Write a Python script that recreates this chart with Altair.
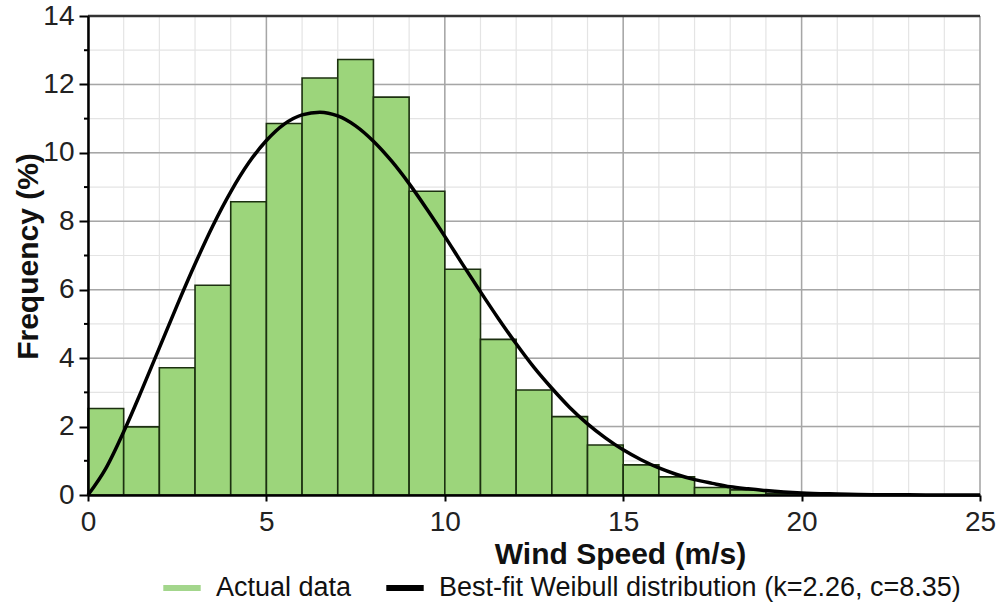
import altair as alt
import pandas as pd

# ---- data ----
bin_start = list(range(0, 20))
bin_end = list(range(1, 21))
freq = [2.53, 1.99, 3.72, 6.13, 8.57, 10.86, 12.19, 12.73, 11.63, 8.88,
        6.60, 4.55, 3.07, 2.29, 1.46, 0.88, 0.53, 0.22, 0.15, 0.05]

fit_x = [0, 0.5, 1, 1.5, 2, 2.5, 3, 3.5, 4, 4.5, 5, 5.5, 6, 6.5, 7, 7.5, 8, 8.5,
         9, 9.5, 10, 10.5, 11, 11.5, 12, 12.5, 13, 13.5, 14, 14.5, 15, 15.5, 16,
         16.5, 17, 17.5, 18, 18.5, 19, 19.5, 20, 21, 22, 23, 24, 25]
fit_y = [0.0, 0.78, 1.85, 3.05, 4.30, 5.55, 6.75, 7.87, 8.86, 9.70, 10.36, 10.84,
         11.11, 11.19, 11.08, 10.79, 10.34, 9.77, 9.10, 8.35, 7.56, 6.74, 5.94,
         5.16, 4.42, 3.73, 3.12, 2.56, 2.08, 1.67, 1.32, 1.03, 0.79, 0.60, 0.45,
         0.34, 0.24, 0.18, 0.13, 0.09, 0.06, 0.03, 0.01, 0.005, 0.002, 0.001]

series_names = ["Actual data", "Best-fit Weibull distribution (k=2.26, c=8.35)"]
series_colors = ["#A3D68C", "#000000"]

x_ticks = [0, 5, 10, 15, 20, 25]
y_ticks = [0, 2, 4, 6, 8, 10, 12, 14]
x_minor = list(range(0, 26))
y_minor = list(range(0, 15))
y_minor_ticks = [1, 3, 5, 7, 9, 11, 13]
y_top = [14]

bars = pd.DataFrame({"start": bin_start, "end": bin_end, "freq": freq})
fit = pd.DataFrame({"x": fit_x, "y": fit_y, "series": series_names[1]})

xs = alt.Scale(domain=[0, 25], nice=False, zero=False)
ys = alt.Scale(domain=[0, 14], nice=False)

FONT = "Liberation Sans"

grid_x_minor = alt.Chart(pd.DataFrame({"v": x_minor})).mark_rule(
    color="#e4e4e4", strokeWidth=1.2).encode(x=alt.X("v:Q", scale=xs))
grid_y_minor = alt.Chart(pd.DataFrame({"v": y_minor})).mark_rule(
    color="#e4e4e4", strokeWidth=1.2).encode(y=alt.Y("v:Q", scale=ys))
grid_x_major = alt.Chart(pd.DataFrame({"v": x_ticks})).mark_rule(
    color="#a6a6a6", strokeWidth=1.5).encode(x=alt.X("v:Q", scale=xs))
grid_y_major = alt.Chart(pd.DataFrame({"v": y_ticks})).mark_rule(
    color="#a6a6a6", strokeWidth=1.5).encode(y=alt.Y("v:Q", scale=ys))

bar_layer = alt.Chart(bars).mark_rect(
    fill="#9CD57B", stroke="#1c3010", strokeWidth=1.6).encode(
    x=alt.X("start:Q", scale=xs,
            axis=alt.Axis(values=x_ticks, title="Wind Speed (m/s)", grid=False,
                          domainColor="#000", domainWidth=2.5, tickColor="#000",
                          tickWidth=2, tickSize=6, labelPadding=7,
                          labelFontSize=28, labelColor="#222", labelFont=FONT,
                          titleFont=FONT, titleFontSize=30, titleFontWeight="bold",
                          titleColor="#111", titleX=532, titleY=68,
                          titleBaseline="alphabetic", titleAlign="center",
                          labelFlush=False, zindex=1)),
    x2="end:Q",
    y=alt.Y("freq:Q", scale=ys,
            axis=alt.Axis(values=y_ticks, title="Frequency (%)", grid=False,
                          domainColor="#000", domainWidth=2.5, tickColor="#000",
                          tickWidth=2, tickSize=9, labelPadding=5,
                          labelFontSize=28, labelColor="#222", labelFont=FONT,
                          titleFont=FONT, titleFontSize=30, titleFontWeight="bold",
                          titleColor="#111", titleAngle=-90, titleX=-51, titleY=240,
                          titleBaseline="alphabetic", titleAlign="center",
                          labelFlush=False, zindex=1)),
    y2=alt.datum(0),
)

minor_ticks = alt.Chart(pd.DataFrame({"v": y_minor_ticks})).mark_rule(
    color="#000", strokeWidth=2).encode(
    y=alt.Y("v:Q", scale=ys), x=alt.value(-4), x2=alt.value(0))

line_layer = alt.Chart(fit).mark_line(strokeWidth=3.5, interpolate="monotone").encode(
    x=alt.X("x:Q", scale=xs),
    y=alt.Y("y:Q", scale=ys),
    color=alt.Color("series:N",
                    scale=alt.Scale(domain=series_names, range=series_colors),
                    legend=alt.Legend(title=None, orient="none", direction="horizontal",
                                      legendX=72, legendY=550, symbolType="stroke",
                                      symbolSize=1400, symbolStrokeWidth=6,
                                      labelFontSize=27, labelFont=FONT,
                                      labelColor="#111", labelOffset=12,
                                      columnPadding=22, padding=0,
                                      labelLimit=800)),
)

top_border = alt.Chart(pd.DataFrame({"v": y_top})).mark_rule(
    color="#333", strokeWidth=2.5).encode(y=alt.Y("v:Q", scale=ys))

chart = alt.layer(
    grid_x_minor, grid_y_minor, grid_x_major, grid_y_major,
    bar_layer, line_layer, top_border, minor_ticks,
).properties(
    width=892, height=479,
    autosize=alt.AutoSizeParams(type="none"),
    padding={"left": 88, "top": 16, "right": 17, "bottom": 109},
    background="white",
).configure_view(stroke=None)

chart.save("out.html", embed_options={"renderer": "svg", "actions": False})
